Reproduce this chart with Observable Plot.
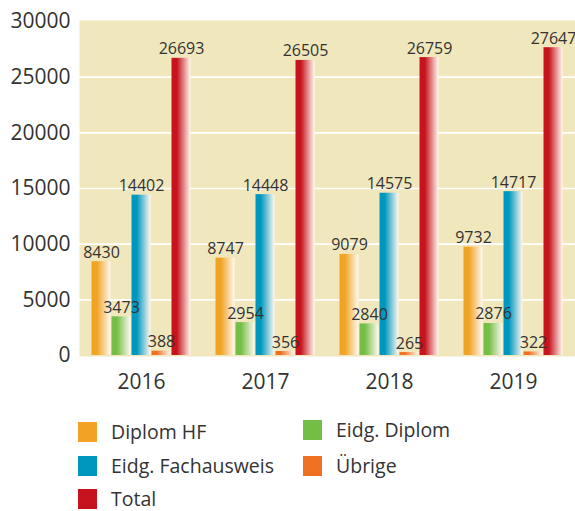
<!DOCTYPE html>
<html><head><meta charset="utf-8">
<script src="https://cdn.jsdelivr.net/npm/d3@7"></script>
<script src="https://cdn.jsdelivr.net/npm/@observablehq/plot@0.6"></script>
<style>
body{margin:0;background:#fff;font-family:"Open Sans",sans-serif;color:#333}
#wrap{position:relative;width:575px;height:511px;overflow:hidden}
.lg{position:absolute;display:flex;align-items:center;font-size:19.5px;color:#333;line-height:20px}
.sw{width:19px;height:20px;margin-right:14px;flex:none}
</style>
</head><body>
<svg width="0" height="0" style="position:absolute"><defs id="defs"></defs></svg>
<div id="wrap"><div id="chart"></div><div id="legend"></div></div>
<script>
const years = ["2016", "2017", "2018", "2019"];
const series = ["Diplom HF", "Eidg. Diplom", "Eidg. Fachausweis", "Übrige", "Total"];
const colors = ["#f0a324", "#74be45", "#0097bf", "#f07022", "#c6131d"];
const diplomHF = [8430, 8747, 9079, 9732];
const eidgDiplom = [3473, 2954, 2840, 2876];
const eidgFachausweis = [14402, 14448, 14575, 14717];
const uebrige = [388, 356, 265, 322];
const total = [26693, 26505, 26759, 27647];
const yTicks = [0, 5000, 10000, 15000, 20000, 25000, 30000];
const values = [diplomHF, eidgDiplom, eidgFachausweis, uebrige, total];

// gradients
const defs = d3.select("#defs");
colors.forEach((c, i) => {
  const g = defs.append("linearGradient").attr("id", "g" + i).attr("x1", 0).attr("x2", 1).attr("y1", 0).attr("y2", 0);
  g.append("stop").attr("offset", "0%").attr("stop-color", c);
  g.append("stop").attr("offset", "28%").attr("stop-color", c);
  g.append("stop").attr("offset", "100%").attr("stop-color", "#fff8f0");
});

const data = [];
series.forEach((s, i) => years.forEach((y, j) => data.push({year: y, series: s, si: i, value: values[i][j]})));

const W = 575, bw = 20;
const marks = [
  Plot.frame({fill: "#f1e7bd", stroke: null, insetTop: -1, insetBottom: -1}),
  Plot.gridY(yTicks.filter(t => t > 0 && t < 30000), {stroke: "#fff", strokeOpacity: 1, strokeWidth: 1.6})
];
series.forEach((s, i) => {
  const d = data.filter(r => r.si === i);
  marks.push(Plot.barY(d, {
    x: "year", y: "value", fill: `url(#g${i})`,
    insetLeft: i * bw + 0.5, insetRight: (4 - i) * bw + 0.5
  }));
});
series.forEach((s, i) => {
  const d = data.filter(r => r.si === i);
  marks.push(Plot.text(d, {
    x: "year", y: "value", text: r => String(r.value),
    dx: (i - 2) * bw, dy: -4, lineAnchor: "bottom",
    fontSize: 16, fill: "#333"
  }));
});

const chart = Plot.plot({
  width: W, height: 400,
  marginLeft: 79, marginRight: 0, marginTop: 21, marginBottom: 45,
  style: {fontFamily: "Open Sans", background: "transparent", color: "#333", overflow: "visible"},
  x: {domain: years, paddingInner: 24 / 124, paddingOuter: 12 / 124, label: null, tickSize: 0, tickPadding: 19},
  y: {domain: [0, 30000], ticks: yTicks, tickSize: 0, tickPadding: 9, label: null, tickFormat: d => String(d)},
  marks
});
chart.querySelectorAll('[aria-label="x-axis tick label"]').forEach(g => g.setAttribute("font-size", 21));
chart.querySelectorAll('[aria-label="y-axis tick label"]').forEach(g => g.setAttribute("font-size", 21));
document.getElementById("chart").appendChild(chart);

// legend
const pos = [[78, 422], [303, 420], [78, 456], [303, 456], [78, 489]];
const lg = document.getElementById("legend");
series.forEach((s, i) => {
  const el = document.createElement("div");
  el.className = "lg";
  el.style.left = pos[i][0] + "px";
  el.style.top = pos[i][1] + "px";
  el.style.height = "20px";
  el.innerHTML = `<div class="sw" style="background:${colors[i]}"></div><span>${s}</span>`;
  lg.appendChild(el);
});
</script>
</body></html>
